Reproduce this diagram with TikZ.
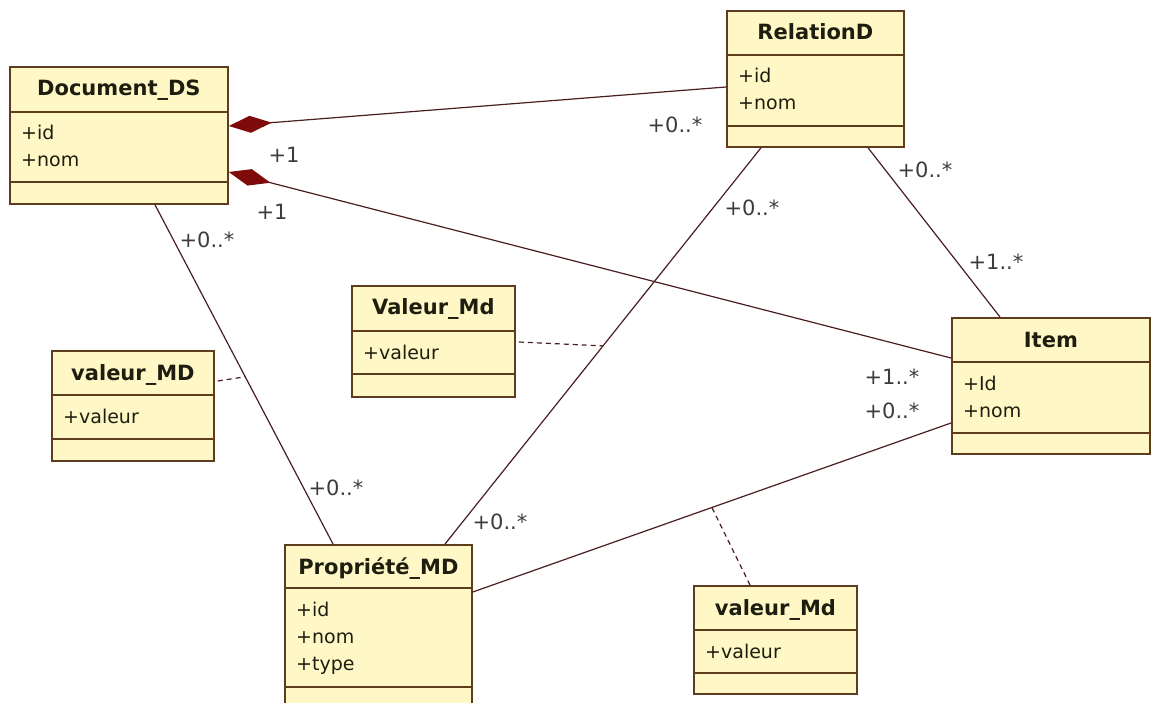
\documentclass[tikz,border=0pt]{standalone}
\usepackage{fontspec}
\setmainfont{DejaVu Sans}
\usetikzlibrary{arrows.meta,calc}

\definecolor{boxfill}{HTML}{FFF8C6}
\definecolor{boxline}{HTML}{5E3C1E}
\definecolor{assoc}{HTML}{4A1E1E}
\definecolor{compo}{HTML}{7E0A0A}
\definecolor{txt}{HTML}{1E1E10}
\definecolor{lbl}{HTML}{3C3C3C}

\tikzset{
  classbox/.style={draw=boxline, fill=boxfill, line width=1.8pt, inner sep=0pt, anchor=north west},
  sepline/.style={draw=boxline, line width=1.6pt},
  ctitle/.style={font=\fontsize{21}{25}\selectfont\bfseries, text=txt, inner sep=0pt, anchor=base},
  cattr/.style={font=\fontsize{19}{23}\selectfont, text=txt, inner sep=0pt, anchor=base west},
  mult/.style={font=\fontsize{21}{24}\selectfont, text=lbl, inner sep=0pt},
  assocline/.style={draw=assoc, line width=1.2pt},
  compline/.style={assocline, -{Diamond[length=43pt,width=17pt,fill=compo,color=compo]}},
  linkline/.style={draw=assoc, line width=1.2pt, dash pattern=on 5pt off 4pt},
}

% UML class: name, x, y, width, height, header height, header+attributes height, title, attributes
\newcommand\umlclass[9]{%
  \node[classbox, minimum width=#4pt, minimum height=#5pt] (#1) at (#2,#3) {};
  \draw[sepline] ($(#1.north west)+(0,#6)$) -- ($(#1.north east)+(0,#6)$);
  \draw[sepline] ($(#1.north west)+(0,#7)$) -- ($(#1.north east)+(0,#7)$);
  \node[ctitle] (#1-title) at ($(#1.north)+(0,30)$) {#8};
  \foreach \a [count=\i] in {#9}
    \node[cattr] (#1-a\i) at ($(#1.north west)+(12,#6+28+27*\i-27)$) {\a};
}

\begin{document}
\begin{tikzpicture}[x=1pt,y=-1pt]
\useasboundingbox (0,0) rectangle (1151,703);
\clip (0,0) rectangle (1151,703);

% classes
\umlclass{doc}{9}{66}{218}{137}{46}{116}{Document\_DS}{+id,+nom}
\umlclass{rel}{726}{10}{177}{136}{45}{116}{RelationD}{+id,+nom}
\umlclass{item}{951}{317}{198}{136}{45}{116}{Item}{+Id,+nom}
\umlclass{vleft}{51}{350}{162}{110}{45}{89}{valeur\_MD}{+valeur}
\umlclass{vmid}{351}{285}{163}{111}{46}{89}{Valeur\_Md}{+valeur}
\umlclass{prop}{284}{544}{187}{166}{44}{143}{Propriété\_MD}{+id,+nom,+type}
\umlclass{vbot}{693}{585}{163}{108}{45}{88}{valeur\_Md}{+valeur}

% connector end points on the class borders
\coordinate (docA) at ($(doc.north east)+(0,60)$);
\coordinate (docB) at ($(doc.north east)+(0,106)$);
\coordinate (docC) at ($(doc.south west)+(146,0)$);
\coordinate (relA) at ($(rel.north west)+(0,77)$);
\coordinate (relB) at ($(rel.south west)+(35,0)$);
\coordinate (relC) at ($(rel.south west)+(142,0)$);
\coordinate (itemA) at ($(item.north west)+(0,41)$);
\coordinate (itemB) at ($(item.north west)+(0,106)$);
\coordinate (itemC) at ($(item.north west)+(49,0)$);
\coordinate (propA) at ($(prop.north west)+(49,0)$);
\coordinate (propB) at ($(prop.north west)+(161,0)$);
\coordinate (propC) at ($(prop.north east)+(0,48)$);

% compositions
\draw[compline] (relA) -- (docA);
\draw[compline] (itemA) -- (docB);

% associations
\draw[assocline] (docC) -- (propA);
\draw[assocline] (relB) -- (propB);
\draw[assocline] (relC) -- (itemC);
\draw[assocline] (propC) -- (itemB);

% association classes
\coordinate (midDP) at ($(docC)!0.507!(propA)$);
\coordinate (midRP) at ($(relB)!0.5!(propB)$);
\coordinate (midPI) at ($(propC)!0.5!(itemB)$);
\draw[linkline] ($(vleft.north east)+(3,31)$) -- (midDP);
\draw[linkline] ($(vmid.north east)+(3,57)$) -- (midRP);
\draw[linkline] ($(vbot.north west)+(57,0)$) -- (midPI);

% multiplicities
\node[mult] (m1) at (284,155) {+1};
\node[mult] (m2) at (272,212) {+1};
\node[mult] (m3) at (675,125) {+0..*};
\node[mult] (m4) at (752,208) {+0..*};
\node[mult] (m5) at (925,170) {+0..*};
\node[mult] (m6) at (996,262) {+1..*};
\node[mult] (m7) at (207,240) {+0..*};
\node[mult] (m8) at (892,377) {+1..*};
\node[mult] (m9) at (892,411) {+0..*};
\node[mult] (m10) at (336,488) {+0..*};
\node[mult] (m11) at (500,522) {+0..*};
\end{tikzpicture}
\end{document}
